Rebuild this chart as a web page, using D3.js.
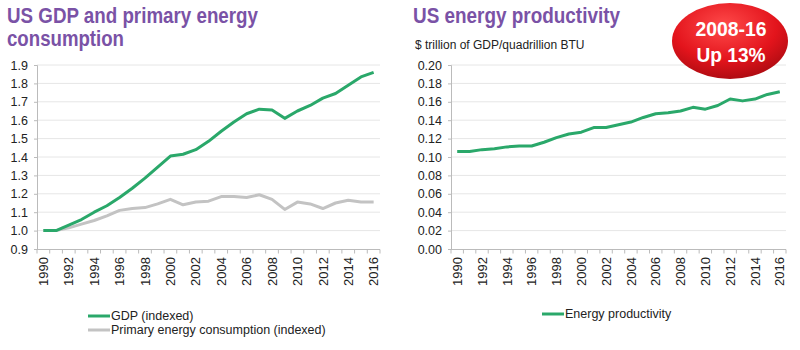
<!DOCTYPE html>
<html lang="en">
<head>
<meta charset="UTF-8">
<title>US GDP and energy</title>
<script src="https://cdn.jsdelivr.net/npm/d3@7"></script>
<style>
  body { margin: 0; background: #fff; }
  text { font-family: "Liberation Sans", Arial, sans-serif; fill: #222; }
</style>
</head>
<body>
<svg id="svg" width="800" height="350"></svg>
<script>
const years = d3.range(1990, 2017);
const gdp = [1.00, 1.00, 1.03, 1.06, 1.10, 1.135, 1.18, 1.23, 1.285, 1.345, 1.405, 1.415, 1.44, 1.485,
             1.54, 1.59, 1.635, 1.66, 1.655, 1.61, 1.65, 1.68, 1.72, 1.745, 1.79, 1.835, 1.86];
const energy = [1.00, 1.00, 1.015, 1.035, 1.055, 1.08, 1.11, 1.12, 1.125, 1.145, 1.17, 1.14, 1.155, 1.16,
                1.185, 1.185, 1.18, 1.195, 1.17, 1.115, 1.155, 1.145, 1.12, 1.15, 1.165, 1.155, 1.155];
const productivity = [0.106, 0.106, 0.108, 0.109, 0.111, 0.112, 0.112, 0.116, 0.121, 0.125, 0.127, 0.132, 0.132, 0.135,
                      0.138, 0.143, 0.147, 0.148, 0.150, 0.154, 0.152, 0.156, 0.163, 0.161, 0.163, 0.168, 0.171];
const leftTicks = [0.9, 1.0, 1.1, 1.2, 1.3, 1.4, 1.5, 1.6, 1.7, 1.8, 1.9];
const rightTicks = [0, 0.02, 0.04, 0.06, 0.08, 0.10, 0.12, 0.14, 0.16, 0.18, 0.20];
const labelYears = years.filter(y => y % 2 === 0);

const green = "#2aa86a", grey = "#c3c3c3", purple = "#7a52a6";
const svg = d3.select("#svg");

// defs for the badge
const defs = svg.append("defs");
const rg = defs.append("radialGradient").attr("id", "badge").attr("cx", "45%").attr("cy", "30%").attr("r", "75%");
rg.append("stop").attr("offset", "0%").attr("stop-color", "#ff4a4a");
rg.append("stop").attr("offset", "60%").attr("stop-color", "#e3141c");
rg.append("stop").attr("offset", "100%").attr("stop-color", "#a60a10");

function panel(opt) {
  const x = d3.scaleBand().domain(years).range([opt.x0, opt.x1]);
  const y = d3.scaleLinear().domain(opt.domain).range([249, 65]);
  const g = svg.append("g");

  // grid
  g.selectAll(".grid").data(opt.ticks.slice(1)).join("line")
    .attr("x1", opt.x0).attr("x2", opt.x1)
    .attr("y1", d => y(d)).attr("y2", d => y(d))
    .attr("stroke", "#e6e6e6").attr("stroke-width", 1);

  // y axis
  const ya = d3.axisLeft(y).tickValues(opt.ticks).tickFormat(d3.format(opt.fmt)).tickSize(3).tickPadding(6);
  g.append("g").attr("transform", `translate(${opt.x0},0)`).call(ya)
    .call(s => s.select(".domain").attr("stroke", "#bbb"))
    .call(s => s.selectAll(".tick line").attr("stroke", "#bbb"))
    .call(s => s.selectAll("text").style("font-size", "12.5px"));

  // x axis
  g.append("line").attr("x1", opt.x0).attr("x2", opt.x1).attr("y1", 249.5).attr("y2", 249.5).attr("stroke", "#bbb");
  g.selectAll(".xt").data(years.concat([2017])).join("line")
    .attr("x1", d => d === 2017 ? opt.x1 : x(d)).attr("x2", d => d === 2017 ? opt.x1 : x(d))
    .attr("y1", 249.5).attr("y2", 253.5).attr("stroke", "#bbb");
  g.selectAll(".xl").data(labelYears).join("text")
    .attr("transform", d => `translate(${x(d) + x.bandwidth() / 2},257) rotate(-90)`)
    .attr("dy", "0.36em").attr("text-anchor", "end").style("font-size", "13px")
    .text(d => d);

  const line = d3.line().x((d, i) => x(years[i]) + x.bandwidth() / 2).y(d => y(d));
  opt.series.forEach(s => {
    g.append("path").datum(s.values).attr("d", line)
      .attr("fill", "none").attr("stroke", s.color).attr("stroke-width", 3).attr("stroke-linejoin", "round");
  });
}

panel({ x0: 37, x1: 380, domain: [0.9, 1.9], ticks: leftTicks, fmt: ".1f",
        series: [{ values: energy, color: grey }, { values: gdp, color: green }] });
panel({ x0: 451, x1: 786, domain: [0, 0.2], ticks: rightTicks, fmt: ".2f",
        series: [{ values: productivity, color: green }] });

// titles
const title = (t, x, y, len) => svg.append("text").attr("x", x).attr("y", y)
  .attr("textLength", len).attr("lengthAdjust", "spacingAndGlyphs")
  .style("font-size", "22px").style("font-weight", "bold").style("fill", purple).text(t);
title("US GDP and primary energy", 7, 23, 251);
title("consumption", 7, 46, 117);
title("US energy productivity", 413, 23, 207);

svg.append("text").attr("x", 415).attr("y", 49).style("font-size", "12px").text("$ trillion of GDP/quadrillion BTU");

// legends
const legend = (items, x, y0) => items.forEach((it, i) => {
  const yy = y0 + i * 14;
  svg.append("line").attr("x1", x).attr("x2", x + 22).attr("y1", yy).attr("y2", yy)
    .attr("stroke", it.color).attr("stroke-width", 3);
  svg.append("text").attr("x", x + 23).attr("y", yy).attr("dy", "0.35em").style("font-size", "12.5px").text(it.label);
});
legend([{ label: "GDP (indexed)", color: green }, { label: "Primary energy consumption (indexed)", color: grey }], 88, 316);
legend([{ label: "Energy productivity", color: green }], 542, 314);

// badge
svg.append("ellipse").attr("cx", 730).attr("cy", 41).attr("rx", 58).attr("ry", 38).attr("fill", "url(#badge)");
const badgeText = (t, y, len) => svg.append("text").attr("x", 731).attr("y", y).attr("text-anchor", "middle")
  .attr("textLength", len).attr("lengthAdjust", "spacingAndGlyphs")
  .style("font-size", "21px").style("font-weight", "bold").style("fill", "#fff").text(t);
badgeText("2008-16", 36, 71);
badgeText("Up 13%", 62, 69);
</script>
</body>
</html>
